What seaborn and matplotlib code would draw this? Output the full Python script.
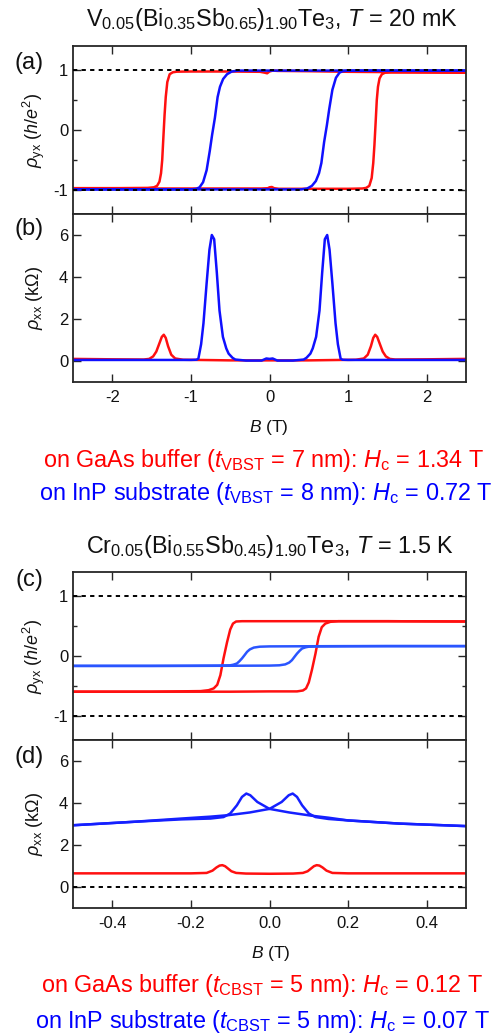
import matplotlib
matplotlib.use("Agg")
import matplotlib.pyplot as plt
import seaborn as sns

sns.set_theme(style="ticks")
plt.rcParams['font.family'] = ['Liberation Sans', 'DejaVu Sans']
plt.rcParams['mathtext.fontset'] = 'custom'
plt.rcParams['mathtext.rm'] = 'Liberation Sans'
plt.rcParams['mathtext.it'] = 'Liberation Sans:italic'
plt.rcParams['mathtext.bf'] = 'Liberation Sans:bold'
plt.rcParams['axes.unicode_minus'] = False

# ---------------- data ----------------
# (a) rho_yx, V-doped, sweep up / down
a_red_up_B = [-2.5, -2.0, -1.5, -1.0, -0.5, -0.1, -0.02, 0.0, 0.03, 0.06, 0.12, 0.5, 1.0, 1.18, 1.23,
              1.27, 1.30, 1.32, 1.335, 1.35, 1.365, 1.38, 1.40, 1.43, 1.47, 1.55, 2.0, 2.5]
a_red_up_rho = [-0.97, -0.97, -0.975, -0.975, -0.975, -0.975, -0.97, -0.955, -0.95, -0.97, -0.98, -0.98,
                -0.98, -0.975, -0.965, -0.93, -0.8, -0.55, -0.25, 0.12, 0.5, 0.72, 0.86, 0.93, 0.955,
                0.96, 0.96, 0.955]
a_red_dn_B = [2.5, 2.0, 1.5, 1.0, 0.5, 0.1, 0.04, 0.0, -0.03, -0.06, -0.12, -0.5, -1.0, -1.18, -1.23,
              -1.27, -1.30, -1.32, -1.335, -1.35, -1.365, -1.38, -1.40, -1.43, -1.47, -1.55, -2.0, -2.5]
a_red_dn_rho = [0.955, 0.96, 0.965, 0.97, 0.98, 0.985, 0.99, 0.975, 0.945, 0.955, 0.97, 0.975, 0.975,
                0.972, 0.962, 0.93, 0.8, 0.55, 0.25, -0.12, -0.5, -0.72, -0.86, -0.93, -0.955, -0.965,
                -0.97, -0.97]
a_blue_up_B = [-2.5, -1.0, 0.0, 0.4, 0.48, 0.54, 0.59, 0.63, 0.66, 0.695, 0.73, 0.76, 0.80, 0.845,
               0.89, 0.93, 1.0, 1.5, 2.5]
a_blue_up_rho = [-0.99, -0.99, -0.99, -0.99, -0.975, -0.93, -0.85, -0.72, -0.55, -0.2, 0.08, 0.35,
                 0.67, 0.87, 0.955, 0.98, 0.99, 0.99, 0.99]
a_blue_dn_B = [2.5, 1.0, 0.0, -0.4, -0.48, -0.54, -0.59, -0.63, -0.66, -0.695, -0.73, -0.76, -0.80,
               -0.845, -0.89, -0.93, -1.0, -1.5, -2.5]
a_blue_dn_rho = [0.99, 0.99, 0.99, 0.99, 0.975, 0.93, 0.85, 0.72, 0.55, 0.2, -0.08, -0.35, -0.67,
                 -0.87, -0.955, -0.98, -0.99, -0.99, -0.99]

# (b) rho_xx, V-doped
b_red_B = [-2.5, -2.0, -1.6, -1.53, -1.48, -1.44, -1.40, -1.37, -1.345, -1.32, -1.29, -1.25, -1.2,
           -1.1, -0.5, 0.0, 0.5, 1.1, 1.2, 1.25, 1.29, 1.32, 1.345, 1.37, 1.40, 1.44, 1.48, 1.53,
           1.6, 2.0, 2.5]
b_red_rho = [0.1, 0.08, 0.07, 0.1, 0.22, 0.45, 0.85, 1.15, 1.25, 1.1, 0.7, 0.3, 0.12, 0.06, 0.03,
             0.03, 0.03, 0.06, 0.12, 0.3, 0.7, 1.1, 1.25, 1.15, 0.85, 0.45, 0.22, 0.1, 0.07, 0.08, 0.1]
b_blue_B = [-2.5, -1.5, -1.0, -0.93, -0.905, -0.87, -0.84, -0.80, -0.764, -0.734, -0.704, -0.67,
            -0.636, -0.593, -0.55, -0.52, -0.47, -0.435, -0.3, -0.1, -0.04, 0.0, 0.04, 0.1, 0.3,
            0.435, 0.47, 0.52, 0.55, 0.593, 0.636, 0.67, 0.704, 0.734, 0.764, 0.80, 0.84, 0.87,
            0.905, 0.93, 1.0, 1.5, 2.5]
b_blue_rho = [0.05, 0.05, 0.05, 0.06, 0.11, 0.8, 1.8, 3.7, 5.3, 6.0, 5.8, 4.2, 2.4, 1.15, 0.6, 0.35,
              0.15, 0.07, 0.02, 0.02, 0.12, 0.1, 0.12, 0.02, 0.02, 0.07, 0.15, 0.35, 0.6, 1.15, 2.4,
              4.2, 5.8, 6.0, 5.3, 3.7, 1.8, 0.8, 0.11, 0.06, 0.05, 0.05, 0.05]

# (c) rho_yx, Cr-doped
c_red_up_B = [-0.5, -0.3, -0.1, 0.0, 0.07, 0.085, 0.093, 0.1, 0.108, 0.117, 0.125, 0.133, 0.142,
              0.155, 0.175, 0.3, 0.5]
c_red_up_rho = [-0.595, -0.595, -0.595, -0.59, -0.59, -0.575, -0.54, -0.44, -0.23, 0.04, 0.32, 0.48,
                0.54, 0.57, 0.58, 0.58, 0.575]
c_red_dn_B = [0.5, 0.3, 0.1, 0.0, -0.07, -0.085, -0.093, -0.1, -0.108, -0.117, -0.125, -0.133,
              -0.142, -0.155, -0.175, -0.3, -0.5]
c_red_dn_rho = [0.575, 0.58, 0.58, 0.58, 0.58, 0.575, 0.54, 0.44, 0.23, -0.04, -0.32, -0.48, -0.54,
                -0.57, -0.585, -0.595, -0.595]
c_blue_up_B = [-0.5, -0.2, 0.0, 0.025, 0.04, 0.05, 0.057, 0.064, 0.07, 0.077, 0.083, 0.092, 0.1,
               0.13, 0.3, 0.5]
c_blue_up_rho = [-0.165, -0.165, -0.16, -0.155, -0.14, -0.11, -0.07, -0.01, 0.04, 0.09, 0.125, 0.145,
                 0.155, 0.16, 0.165, 0.165]
c_blue_dn_B = [0.5, 0.2, 0.0, -0.025, -0.04, -0.05, -0.057, -0.064, -0.07, -0.077, -0.083, -0.092,
               -0.1, -0.13, -0.3, -0.5]
c_blue_dn_rho = [0.165, 0.165, 0.16, 0.155, 0.14, 0.11, 0.07, 0.01, -0.04, -0.09, -0.125, -0.145,
                 -0.155, -0.16, -0.165, -0.165]

# (d) rho_xx, Cr-doped
d_red_B = [-0.5, -0.3, -0.2, -0.16, -0.145, -0.135, -0.127, -0.12, -0.113, -0.105, -0.097, -0.085,
           -0.06, 0.0, 0.06, 0.085, 0.097, 0.105, 0.113, 0.12, 0.127, 0.135, 0.145, 0.16, 0.2, 0.3, 0.5]
d_red_rho = [0.65, 0.65, 0.65, 0.67, 0.78, 0.93, 1.02, 1.04, 0.99, 0.87, 0.75, 0.67, 0.64, 0.63, 0.64,
             0.67, 0.75, 0.87, 0.99, 1.04, 1.02, 0.93, 0.78, 0.67, 0.65, 0.65, 0.65]
d_blue_up_B = [-0.5, -0.35, -0.224, -0.15, -0.105, -0.05, 0.0, 0.031, 0.049, 0.059, 0.07, 0.083,
               0.1, 0.117, 0.15, 0.2, 0.33, 0.5]
d_blue_up_rho = [2.94, 3.1, 3.26, 3.35, 3.42, 3.55, 3.72, 4.05, 4.37, 4.45, 4.29, 3.89, 3.5, 3.33,
                 3.24, 3.17, 3.02, 2.9]
d_blue_dn_B = [0.5, 0.33, 0.2, 0.15, 0.105, 0.05, 0.0, -0.031, -0.049, -0.059, -0.07, -0.083, -0.1,
               -0.117, -0.15, -0.224, -0.35, -0.5]
d_blue_dn_rho = [2.9, 3.02, 3.17, 3.3, 3.4, 3.55, 3.72, 4.05, 4.37, 4.45, 4.29, 3.89, 3.5, 3.33,
                 3.26, 3.22, 3.1, 2.94]

x_ticks_ab = [-2, -1, 0, 1, 2]
x_ticks_cd = [-0.4, -0.2, 0.0, 0.2, 0.4]
x_labels_cd = ["-0.4", "-0.2", "0.0", "0.2", "0.4"]
y_ticks_yx = [-1, 0, 1]
y_ticks_xx = [0, 2, 4, 6]

title_top = r"V$_{0.05}$(Bi$_{0.35}$Sb$_{0.65}$)$_{1.90}$Te$_3$, $T$ = 20 mK"
title_bot = r"Cr$_{0.05}$(Bi$_{0.55}$Sb$_{0.45}$)$_{1.90}$Te$_3$, $T$ = 1.5 K"
leg_top = [r"on GaAs buffer ($t_{\mathrm{VBST}}$ = 7 nm): $H_{\mathrm{c}}$ = 1.34 T",
           r"on InP substrate ($t_{\mathrm{VBST}}$ = 8 nm): $H_{\mathrm{c}}$ = 0.72 T"]
leg_bot = [r"on GaAs buffer ($t_{\mathrm{CBST}}$ = 5 nm): $H_{\mathrm{c}}$ = 0.12 T",
           r"on InP substrate ($t_{\mathrm{CBST}}$ = 5 nm): $H_{\mathrm{c}}$ = 0.07 T"]

RED = '#ff1010'
BLUE_A = '#1010ff'
BLUE_C = '#2a55ff'
BLUE_D = '#1520ff'
DARK = '#262626'
TXT = '#111111'

W, H = 503, 1036
fig = plt.figure(figsize=(W / 100, H / 100), dpi=100)

def make_ax(top_px, bot_px):
    left, right = 73, 466
    return fig.add_axes([left / W, 1 - bot_px / H, (right - left) / W, (bot_px - top_px) / H])

axa = make_ax(46, 214)
axb = make_ax(214, 382)
axc = make_ax(572, 740)
axd = make_ax(740, 908)

def line(ax, x, y, c):
    sns.lineplot(x=x, y=y, ax=ax, color=c, lw=1.8, sort=False, estimator=None)

line(axa, a_red_up_B, a_red_up_rho, RED)
line(axa, a_red_dn_B, a_red_dn_rho, RED)
line(axa, a_blue_up_B, a_blue_up_rho, BLUE_A)
line(axa, a_blue_dn_B, a_blue_dn_rho, BLUE_A)

line(axb, b_red_B, b_red_rho, RED)
line(axb, b_blue_B, b_blue_rho, BLUE_A)

line(axc, c_red_up_B, c_red_up_rho, RED)
line(axc, c_red_dn_B, c_red_dn_rho, RED)
line(axc, c_blue_up_B, c_blue_up_rho, BLUE_C)
line(axc, c_blue_dn_B, c_blue_dn_rho, BLUE_C)

line(axd, d_red_B, d_red_rho, RED)
line(axd, d_blue_up_B, d_blue_up_rho, BLUE_D)
line(axd, d_blue_dn_B, d_blue_dn_rho, BLUE_D)

dash = (0, (2.2, 2.2))
for ax in (axa, axc):
    for v in (1, -1):
        ax.axhline(v, color='black', lw=1.4, ls=dash, zorder=3)
axd.axhline(0, color='black', lw=1.4, ls=dash, zorder=3)

for ax in (axa, axb, axc, axd):
    for s in ax.spines.values():
        s.set_linewidth(1.3)
        s.set_color(DARK)
    ax.tick_params(which='both', direction='in', top=True, right=True, bottom=True, left=True,
                   colors=DARK, labelcolor=TXT, labelsize=12)
    ax.tick_params(which='major', length=5.5, width=1.0)
    ax.tick_params(which='minor', length=3, width=1.0)
    ax.tick_params(axis='y', pad=3.5)
    ax.tick_params(axis='x', pad=6)
    ax.set_xlabel('')

for ax in (axa, axb):
    ax.set_xlim(-2.5, 2.5)
    ax.set_xticks(x_ticks_ab)
for ax in (axc, axd):
    ax.set_xlim(-0.5, 0.5)
    ax.set_xticks(x_ticks_cd)
axd.set_xticklabels(x_labels_cd)
axa.tick_params(axis='x', labelbottom=False)
axc.tick_params(axis='x', labelbottom=False)
axb.set_xticklabels([str(v) for v in x_ticks_ab])

for ax in (axa, axc):
    ax.set_ylim(-1.4, 1.4)
    ax.set_yticks(y_ticks_yx)
    ax.set_yticks([-0.5, 0.5], minor=True)
    ax.set_yticklabels([str(v) for v in y_ticks_yx])
    ax.set_ylabel(r"$\rho_{\mathrm{yx}}$ ($h$/$e^2$)", fontsize=13, color=TXT, va='center')
    ax.yaxis.set_label_coords(-0.099, 0.5)
for ax in (axb, axd):
    ax.set_ylim(-1, 7)
    ax.set_yticks(y_ticks_xx)
    ax.set_yticklabels([str(v) for v in y_ticks_xx])
    ax.set_ylabel(r"$\rho_{\mathrm{xx}}$ (k$\Omega$)", fontsize=13, color=TXT, va='center')
    ax.yaxis.set_label_coords(-0.099, 0.5)

def ft(xpx, ypx, s, **kw):
    fig.text(xpx / W, 1 - ypx / H, s, **kw)

ft(272, 26, title_top, ha='center', va='baseline', fontsize=16.8, color=TXT)
ft(270, 553, title_bot, ha='center', va='baseline', fontsize=16.8, color=TXT)
ft(269, 432, r"$B$ (T)", ha='center', va='baseline', fontsize=12.5, color=TXT)
ft(271, 958, r"$B$ (T)", ha='center', va='baseline', fontsize=12.5, color=TXT)
ft(263, 467, leg_top[0], ha='center', va='baseline', fontsize=16.8, color='#ff0000')
ft(266, 500, leg_top[1], ha='center', va='baseline', fontsize=16.8, color='#0000ff')
ft(262, 992, leg_bot[0], ha='center', va='baseline', fontsize=16.8, color='#ff0000')
ft(262, 1028, leg_bot[1], ha='center', va='baseline', fontsize=16.8, color='#0000ff')
for lab, ypx in (("(a)", 63), ("(b)", 229), ("(c)", 580), ("(d)", 757)):
    ft(29, ypx, lab, ha='center', va='center', fontsize=17, color=TXT)

fig.savefig("out.png", dpi=100)
